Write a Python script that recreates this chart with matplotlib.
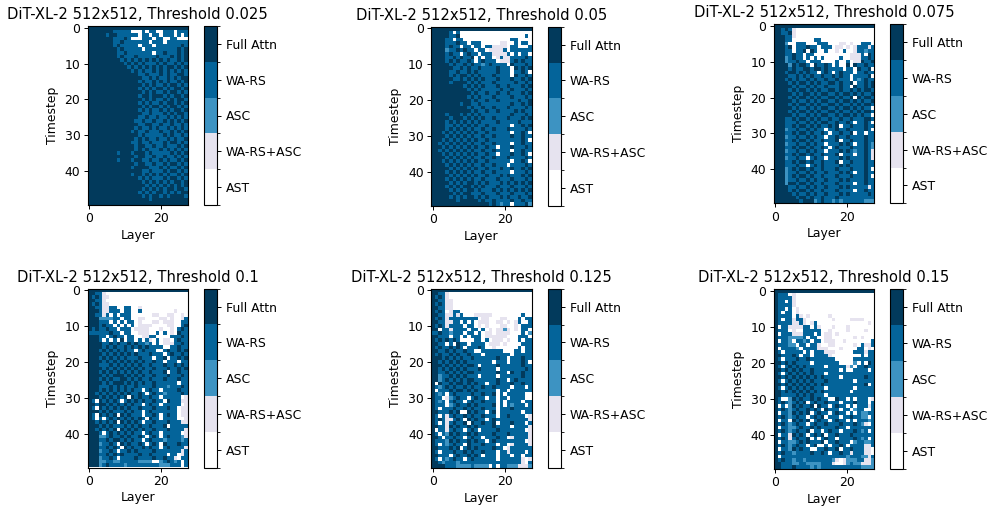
import numpy as np
import matplotlib
matplotlib.use('Agg')
import matplotlib.pyplot as plt
from matplotlib.colors import ListedColormap, BoundaryNorm

# 0 AST, 1 WA-RS+ASC, 2 ASC, 3 WA-RS, 4 Full Attn
labels = ['AST', 'WA-RS+ASC', 'ASC', 'WA-RS', 'Full Attn']
colors = ['#ffffff', '#e6e3ef', '#3d93c2', '#04649a', '#023a5c']
thresholds = ['0.025', '0.05', '0.075', '0.1', '0.125', '0.15']

t025 = [
    "4444 4444 4444 4444 4444 4444 4444",
    "4444 4443 3333 0003 0330 0333 0333",
    "4444 4344 3333 3303 3033 0333 0303",
    "4444 4443 3343 0003 3303 3003 3000",
    "4444 4443 3433 3333 3033 3033 3333",
    "4444 4443 4333 3303 3303 3333 3343",
    "4444 4444 3433 3330 3333 3333 3434",
    "4444 4444 3343 3333 3303 3433 3434",
    "4444 4444 3433 3433 3334 3334 3434",
    "4444 4444 4343 4343 4343 4343 3434",
    "4444 4444 4434 3434 3334 3433 4343",
    "4444 4444 4443 4343 4343 4344 3434",
    "4444 4444 4444 3434 3343 4343 4343",
    "4444 4444 4444 4433 4333 4343 3443",
    "4444 4444 4444 4443 3434 3343 4344",
    "4444 4444 4444 4434 3343 4343 3434",
    "4444 4444 4444 4443 4343 3434 4343",
    "4444 4444 4444 4434 3434 4343 4434",
    "4444 4444 4444 4443 4343 3434 4343",
    "4444 4444 4444 4434 4344 4343 4434",
    "4444 4444 4444 4443 4343 3434 3443",
    "4444 4444 4444 4434 3433 4344 3434",
    "4444 4444 4444 4443 4344 3434 4343",
    "4444 4444 4444 4434 3433 4343 4434",
    "4444 4444 4444 4443 3433 3434 3443",
    "4444 4444 4444 4433 4334 3343 4343",
    "4444 4444 4444 4334 3343 3434 3434",
    "4444 4444 4444 4433 4433 4334 3343",
    "4444 4444 4444 4343 3434 3343 4343",
    "4444 4444 4444 3433 4333 4334 3434",
    "4444 4444 4444 4434 3333 3434 3343",
    "4444 4444 4444 4343 4334 3343 4334",
    "4444 4444 4444 3343 3433 3434 4343",
    "4444 4444 4444 4344 3343 3433 3434",
    "4444 4444 4444 4343 4333 4343 4343",
    "4444 4444 3444 3444 3433 3334 3434",
    "4444 4444 4444 4344 3343 3433 4343",
    "4444 4444 3444 3443 3433 4343 3434",
    "4444 4444 4444 4344 3343 3434 4343",
    "4444 4444 4444 3444 4333 4343 3434",
    "4444 4444 4444 4443 3433 3434 4343",
    "4444 4444 4444 3443 4343 4343 3434",
    "4444 4444 4444 4434 3433 3434 4343",
    "4444 4444 4444 4443 4343 4343 4434",
    "4444 4444 4444 4444 3434 3434 3434",
    "4444 4444 4444 4443 4343 4344 3443",
    "4444 4444 4444 4434 3434 4343 4344",
    "4444 4444 4444 4443 4344 3434 4443",
    "4444 4444 4444 4444 4344 4444 4444",
    "4444 4444 4444 4444 4444 4444 4444",
]

t050 = [
    "4444 4444 4444 4444 4444 4444 4444",
    "4444 4303 0000 0000 0000 0000 0000",
    "4444 4334 0000 0000 0000 0000 0030",
    "4444 3303 3000 0000 0000 0033 0000",
    "4444 3334 3303 3300 0001 1003 0330",
    "4444 3433 0330 3303 3111 1033 0003",
    "4444 2334 3433 0330 1111 3033 3333",
    "4444 3433 0343 3033 3111 1303 0330",
    "4444 3343 4334 0303 3013 1133 3343",
    "4444 3434 3343 0343 3301 1134 3433",
    "4444 4343 3434 3323 4333 3043 3343",
    "4444 4433 4343 3433 3343 3304 3434",
    "4444 4334 3343 4333 3343 3303 3430",
    "4444 4343 4434 3433 3433 3304 3343",
    "4444 4433 4343 4343 3343 3343 3434",
    "4444 4344 4434 3433 3433 3334 3343",
    "4444 4444 4343 4343 3343 3433 3434",
    "4444 4444 4434 3433 3334 3343 3343",
    "4444 4444 4443 4334 3343 3433 3434",
    "4444 4444 4434 3433 3433 3343 3343",
    "4444 4444 4443 4334 3343 3333 4334",
    "4444 4444 3443 3433 3333 3343 3434",
    "4444 4444 4434 3343 3433 3433 3343",
    "4444 4444 4443 4334 3343 3334 3433",
    "4444 3444 3434 3433 3333 3343 3343",
    "4444 4344 4343 4343 3433 3433 3434",
    "4444 3434 3434 3433 3343 3333 4333",
    "4444 3343 4343 4334 3333 3303 3434",
    "4444 3434 3434 3343 3433 3433 3343",
    "4443 4343 4343 4334 3333 3303 3430",
    "4444 3434 3434 3343 3433 3343 3433",
    "4443 4343 4343 4334 3333 3333 3430",
    "4434 3434 3434 3343 3433 3303 3433",
    "4443 4343 4343 4334 3303 3343 3343",
    "4434 3434 3434 3343 3433 3303 3433",
    "4443 4343 4343 4334 3303 3343 3430",
    "4444 3434 3434 3343 3433 3433 3343",
    "4443 4343 4343 4334 3333 3303 3430",
    "4444 3434 3434 3343 3433 3033 3343",
    "4444 4343 4343 4334 3334 3343 3434",
    "4444 3434 3434 3343 3433 3303 3343",
    "4444 4343 4343 4334 3334 3433 3434",
    "4444 3434 3434 3343 3343 3343 3343",
    "4444 4343 4344 3434 3334 3434 3434",
    "4444 3434 3443 4343 3343 3343 3343",
    "4444 4343 4344 3433 3434 3434 3434",
    "4444 4434 3443 3343 3343 3343 3343",
    "4444 4343 4344 3434 3334 3433 4334",
    "4444 4443 4444 4343 3433 3343 3433",
    "4444 4444 4444 4444 3432 3303 3342",
]

t075 = [
    "4444 4444 4444 4444 4444 4444 4444",
    "4434 3100 0000 0000 0000 0000 0000",
    "4433 4100 0000 0000 0000 0000 0000",
    "4443 3100 0000 0000 0000 0000 0000",
    "4443 3000 0003 3000 0000 0000 0000",
    "4442 0033 3000 3330 0011 0100 3330",
    "4443 4033 3433 0333 0110 1013 3313",
    "4443 3033 4043 0030 0103 0013 3233",
    "4443 3433 0330 0000 0000 0111 3043",
    "4442 3433 0303 0300 0030 0111 3343",
    "4442 3343 3033 3000 0300 3011 4334",
    "4444 2434 4304 3343 0300 4043 3433",
    "4444 3433 4434 4343 3330 3304 3340",
    "4443 4434 3433 0343 0343 3303 3433",
    "4444 3343 4343 3433 4343 3033 3340",
    "4443 4343 3434 3343 3433 3032 3433",
    "4444 3434 4343 4334 4343 3403 3434",
    "4444 4343 3434 3343 3343 3043 3434",
    "4444 3434 4343 4334 4343 3434 3443",
    "4444 4343 4434 3443 3434 4343 4334",
    "4444 3434 4343 4334 4343 3404 3443",
    "4444 4343 3434 3443 3434 4343 4334",
    "4444 3434 4343 4334 4343 3434 3443",
    "4444 4343 3434 3443 3434 4343 4330",
    "4444 3434 4343 4334 4343 3434 3443",
    "4444 4343 3434 3443 3434 4343 4330",
    "4443 3434 4343 4334 3343 3433 3443",
    "4443 3343 3434 3443 3433 4303 3430",
    "4443 3434 4343 4334 3403 3433 3433",
    "4442 3343 3434 3303 3433 4333 3430",
    "4443 3434 4343 3430 3343 3403 3033",
    "4442 3343 3434 3303 3433 4333 3433",
    "4443 3434 4343 3433 3403 3433 3433",
    "4442 3343 3434 3303 3343 4303 3432",
    "4443 3434 4343 3430 3433 3433 3432",
    "4442 3343 3434 3303 3343 4323 3431",
    "4443 3434 4343 3433 3403 3303 3431",
    "4442 3343 3034 3303 3343 4333 3431",
    "4443 3434 4343 3433 3403 3433 3433",
    "4443 3343 3034 3433 3343 4333 3433",
    "4442 3434 4343 3433 3433 3433 3430",
    "4442 3343 3434 3343 3343 4303 3433",
    "4442 3434 4343 3433 3433 3433 3430",
    "4442 3343 3434 3343 3343 4333 3433",
    "4442 4434 4343 3433 3433 3303 3433",
    "4444 3343 3434 3343 3343 4333 3313",
    "4444 3434 4343 3433 3433 3303 3433",
    "4444 4343 3434 3343 3343 4333 3343",
    "4444 4434 4343 3433 3433 3333 3333",
    "4444 4443 4442 3433 2323 3333 3222",
]

t100 = [
    "4444 4444 4444 4444 4444 4444 4444",
    "4433 1000 0000 0000 0000 0000 0000",
    "4343 1100 0000 0000 0000 0000 0000",
    "4433 1000 0000 0000 0000 0000 0000",
    "4343 1100 0000 0000 0000 0000 0000",
    "4433 1133 0033 0010 0000 0000 0000",
    "4443 1133 3033 0030 0000 0000 1000",
    "4433 1303 0333 0000 0011 0011 0010",
    "4442 2223 3033 0011 0000 1101 0013",
    "4443 3303 0303 3010 0011 0111 0033",
    "4443 4330 3030 3011 1100 0011 0034",
    "4343 3433 0333 0111 1000 1001 0343",
    "3333 3343 3033 0011 1003 0301 0433",
    "4443 3034 3303 3001 1330 0003 3343",
    "4443 0303 0403 3030 3103 0110 3433",
    "4444 3343 4334 3433 2303 0111 3343",
    "4444 3434 3343 4343 4333 3003 3433",
    "4443 4343 4343 3034 3330 0343 3434",
    "4444 3434 3434 3433 3433 3034 3343",
    "4443 4343 4343 3343 3303 3403 3434",
    "4444 3434 3434 3434 3343 3033 3033",
    "4443 3343 4343 4343 3433 3433 4343",
    "4444 3434 3434 3434 3343 3343 3434",
    "4443 4343 4343 4343 3433 3403 3433",
    "4444 3434 4434 3434 3343 3343 3343",
    "4443 4343 3443 4343 3433 3433 3433",
    "4444 3434 4434 3434 3343 3333 3033",
    "4443 3343 4343 3433 3343 3323 3343",
    "4443 4343 4343 4330 3433 0333 3433",
    "4434 3434 3434 3343 0343 3233 3343",
    "4443 4343 4340 4343 3433 0333 3301",
    "4304 3434 3034 3434 3343 3043 3311",
    "4434 4343 4343 4330 3433 0333 3301",
    "4304 3434 3434 3343 3343 3343 3011",
    "4443 4343 3343 4330 3433 3333 3011",
    "4304 3434 0434 3330 3343 0343 3011",
    "4303 0343 4343 4343 0433 0333 3001",
    "4434 3434 0434 3430 3343 3343 3311",
    "4443 4343 3343 4343 3433 3403 3333",
    "4434 3434 0434 3434 3343 3343 3331",
    "4443 0343 4343 4330 3433 0333 3301",
    "4442 2343 3434 3343 0343 0343 3321",
    "4443 3434 4343 4330 3433 3233 3323",
    "4442 3343 0434 3343 0343 0433 3433",
    "4443 3434 3043 4334 3433 0343 3331",
    "4442 3343 0334 3433 3343 3333 3313",
    "4443 3434 3433 3343 3433 3303 3013",
    "4442 3343 0333 3433 3343 3433 1033",
    "4442 2332 2333 3322 2200 2343 2303",
    "4442 3433 3323 3333 3333 2223 3303",
]

t125 = [
    "4444 4444 4444 4444 4444 4444 4444",
    "4433 1000 0000 0000 0000 0000 0000",
    "4343 1000 0000 0000 0000 0000 0000",
    "4433 1100 0000 0000 0000 0000 0000",
    "4343 1100 0000 0000 0000 0000 0000",
    "4433 1100 0000 0000 0000 0000 0000",
    "4343 0133 0000 0000 0000 0000 0000",
    "4433 1131 3000 1111 1000 0000 0300",
    "4343 1333 3333 3011 0001 1000 3033",
    "4433 1133 0303 0111 0011 0101 3003",
    "4343 1333 3033 0101 0001 1001 0333",
    "4403 3133 3303 3030 1011 2101 0330",
    "3343 3233 3033 0301 1011 1100 0302",
    "4433 3033 0303 3301 1111 1000 3330",
    "4343 4343 0000 3303 0111 0100 3033",
    "4433 0304 3303 3330 1110 1000 0333",
    "4343 3434 3033 3430 0100 0000 3033",
    "4433 4343 3433 0033 3333 0003 3033",
    "4343 3434 3343 3303 3333 3303 3333",
    "4443 4343 4334 3333 3343 3033 3433",
    "4434 3434 3433 3333 3033 3033 3430",
    "4443 4343 4344 3033 3343 3333 3433",
    "4434 3434 3433 3433 3303 3333 3343",
    "4433 4343 4344 3333 3343 3043 3433",
    "4423 3434 3433 3033 3303 3333 3433",
    "4423 4343 4344 3333 3343 3034 3333",
    "4043 3434 4343 4330 3343 3343 3433",
    "4323 4343 3434 3343 3433 3303 3303",
    "4033 3434 4343 4333 3303 3033 3333",
    "4323 0343 3334 3343 3403 0333 3300",
    "4330 1234 3303 4330 3303 3033 3300",
    "4323 0343 3034 3343 3303 0333 3033",
    "4333 0234 3343 4333 3403 0323 3303",
    "4303 3343 3434 3343 3303 3343 3333",
    "4433 3434 0043 4330 3403 3333 3033",
    "4303 1343 3434 3343 3303 3433 3301",
    "4343 1134 3043 4330 3433 3333 3331",
    "4303 1343 3404 3343 3403 3343 3303",
    "4433 1434 3343 4333 3433 3303 3331",
    "4033 1343 3034 3033 3343 3333 3301",
    "4303 2434 3343 4333 3433 3433 3331",
    "4430 3343 3034 3303 3343 3013 3331",
    "4333 2434 3343 4330 3433 3333 3301",
    "4303 2343 3043 3343 3303 3013 3331",
    "4433 3434 0343 4333 3433 0133 3333",
    "4303 3343 3434 3343 3303 3133 3303",
    "4433 3034 3343 4303 3303 3303 3033",
    "4303 2343 3034 3333 3303 3333 3101",
    "4432 3332 3333 3333 3333 3333 3103",
    "4444 3332 2223 2222 0303 3222 1112",
]

t150 = [
    "4444 4444 4444 4444 4444 4444 4444",
    "4333 0100 0000 0000 0000 0000 0000",
    "4333 3100 0000 0000 0000 0000 0000",
    "4330 3100 0000 0000 0000 0000 0000",
    "4333 3100 0000 0000 0000 0000 0000",
    "4330 3010 0000 0000 0000 0000 0000",
    "4303 3010 0000 0000 0000 0000 0000",
    "4333 3031 0100 0001 0000 0000 0000",
    "4303 3133 1000 0000 1000 0111 1000",
    "4333 3113 1013 0000 0000 0000 0010",
    "4033 1111 3303 1000 1000 1000 0000",
    "4333 0100 3333 3001 0000 1000 0100",
    "4033 3111 3330 3011 0100 0000 0000",
    "4333 2222 3033 0011 0000 0010 1000",
    "4033 2033 2303 3011 1001 0000 0003",
    "4333 2203 3033 1001 1000 0010 3113",
    "4033 3320 3333 1110 0010 0003 3010",
    "4303 3333 0303 3311 1000 0033 3133",
    "4433 3430 3303 3331 0000 0000 3033",
    "4303 3343 3433 3333 3000 0033 3333",
    "4434 3433 3303 3333 3300 0020 3043",
    "4303 4343 4333 3303 3333 1203 3433",
    "4434 3434 3343 3333 3303 0033 3303",
    "4303 4343 4343 3303 3333 3333 3333",
    "4434 3434 3434 3433 3303 3333 3433",
    "4303 4343 4343 3343 3333 3303 3333",
    "4434 3434 3434 3433 3333 3333 3403",
    "4303 4343 4343 3303 3333 3303 3333",
    "4434 3434 3434 3433 3333 3033 3333",
    "4433 3343 4343 3303 3333 3333 3333",
    "4300 2434 3343 4330 0433 0303 3301",
    "4343 2343 4034 3343 3303 3343 3303",
    "4030 2434 3340 4330 3433 0303 3313",
    "4343 2343 3434 3043 3303 3023 3003",
    "4033 2434 3403 4330 3433 0303 2233",
    "4343 2343 3034 3403 3303 3433 2203",
    "4033 0434 3403 4330 3433 0303 3323",
    "4343 2343 3034 3343 3343 3343 2103",
    "4033 2234 3343 4333 3433 0333 3333",
    "4343 2343 3403 3034 3303 3343 2303",
    "4033 1434 3034 3403 3433 3433 3333",
    "4343 1343 3403 0343 3033 3343 2303",
    "4033 2234 3433 3403 3433 3023 3223",
    "4343 2343 3034 0030 3343 0333 3113",
    "4033 2434 3300 3343 3403 3433 3110",
    "4343 3233 3343 3430 3343 3133 3110",
    "4033 3333 3333 3333 3333 2333 2213",
    "4343 3233 2333 3333 2101 2223 3112",
    "4433 3223 3222 2333 1001 2322 1112",
    "4433 3433 3323 2333 3333 3333 2222",
]

panels = [t025, t050, t075, t100, t125, t150]

# pixel boxes of the heatmaps: left, right, top, bottom
boxes = [
    (87.7, 187.7, 26, 205),
    (431, 531.7, 26.7, 205.7),
    (773.7, 874, 24.3, 203.3),
    (87.7, 187.7, 288.7, 467.5),
    (431, 531.7, 288.7, 468),
    (773.7, 874, 289.3, 468.7),
]
W, H = 992, 512

cmap = ListedColormap(colors)
norm = BoundaryNorm(np.arange(-0.5, 5.5, 1), cmap.N)

fig = plt.figure(figsize=(W / 100, H / 100), dpi=100)
for rows, th, (l, r, t, b) in zip(panels, thresholds, boxes):
    grid = np.array([[int(c) for c in row.replace(' ', '')] for row in rows])
    ax = fig.add_axes([l / W, 1 - b / H, (r - l) / W, (b - t) / H])
    im = ax.imshow(grid, cmap=cmap, norm=norm, aspect='auto', interpolation='nearest')
    ax.set_title(f'DiT-XL-2 512x512, Threshold {th}', fontsize=10.6, pad=5)
    ax.set_xlabel('Layer', fontsize=8.9, labelpad=2.5)
    ax.set_ylabel('Timestep', fontsize=8.9, labelpad=4)
    ax.set_xticks([0, 20])
    ax.set_yticks([0, 10, 20, 30, 40])
    ax.tick_params(labelsize=8.9, length=2.8, width=0.7, pad=2.5)
    cax = fig.add_axes([(r + 16.3) / W, 1 - b / H, 13 / W, (b - t) / H])
    cb = fig.colorbar(im, cax=cax, ticks=range(5))
    cb.ax.set_yticklabels(labels)
    cb.ax.tick_params(labelsize=8.9, length=2.8, width=0.7, pad=3.5)
    cb.outline.set_linewidth(0.8)

fig.savefig('out.png', dpi=100)
